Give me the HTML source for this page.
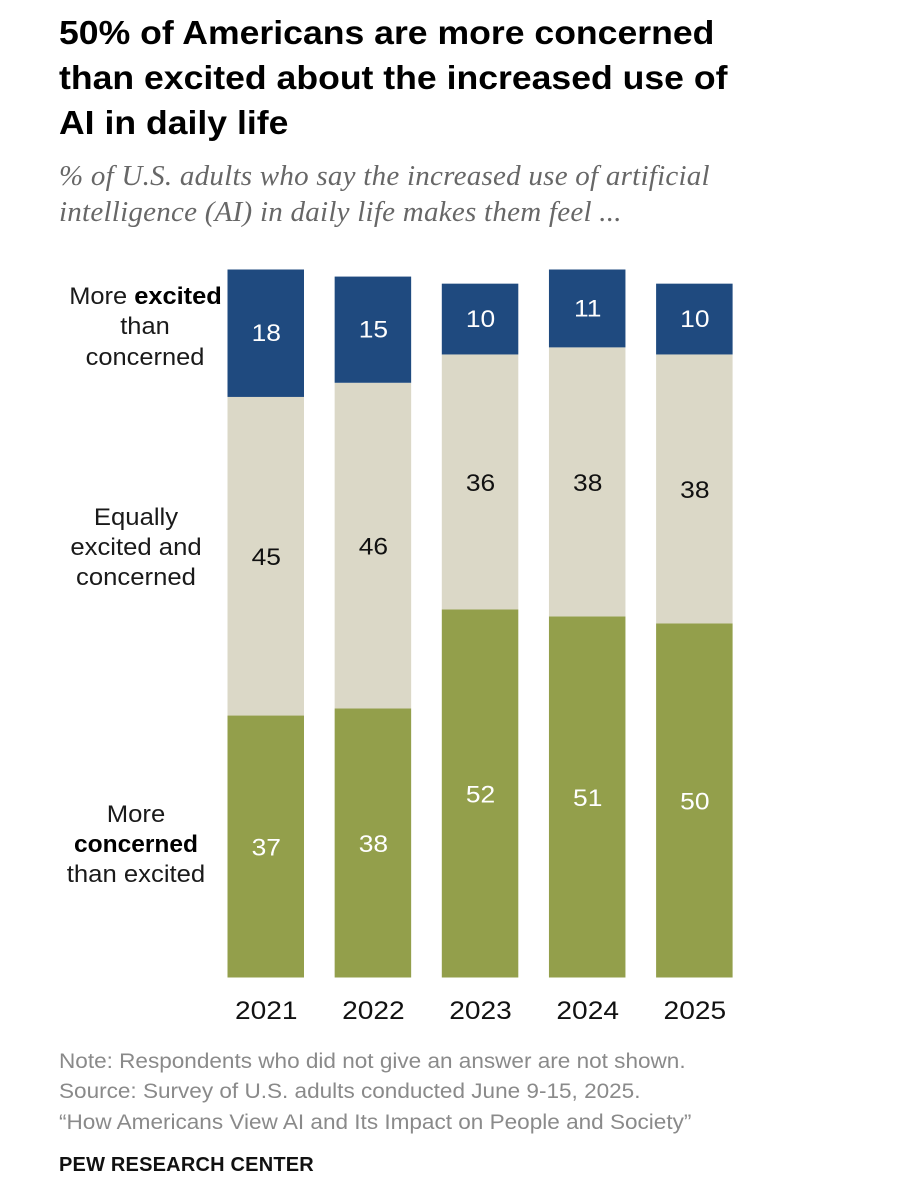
<!DOCTYPE html>
<html lang="en">
<head>
<meta charset="utf-8">
<title>50% of Americans are more concerned than excited</title>
<style>
html,body{margin:0;padding:0;background:#fff;width:905px;height:1194px;overflow:hidden}
svg{display:block}
text{font-family:"Liberation Sans",sans-serif}
.title{font-size:33px;font-weight:700;fill:#000}
.sub{font-family:"Liberation Serif",serif;font-style:italic;font-size:29px;fill:#676767;letter-spacing:.25px}
.lab{font-size:24px;fill:#1a1a1a;text-anchor:middle}
.note{font-size:21px;fill:#8a8a8a}
.val{font-size:24px;text-anchor:middle}
.yr{font-size:25px;fill:#111;text-anchor:middle}
</style>
</head>
<body>
<svg id="chart" width="905" height="1194" viewBox="0 0 905 1194" xmlns="http://www.w3.org/2000/svg">
<g transform="translate(59 0) scale(1.079 1) translate(-59 0)">
<text class="title" x="59" y="44">50% of Americans are more concerned</text>
<text class="title" x="59" y="89">than excited about the increased use of</text>
<text class="title" x="59" y="134">AI in daily life</text>
</g>
<g>
<text class="sub" x="59" y="185">% of U.S. adults who say the increased use of artificial</text>
<text class="sub" x="59" y="221">intelligence (AI) in daily life makes them feel ...</text>
</g>
<g id="bars"></g>
<g transform="translate(145 0) scale(1.06 1) translate(-145 0)">
<text class="lab" x="145.5" y="304">More <tspan font-weight="700" fill="#000">excited</tspan></text>
<text class="lab" x="145" y="334">than</text>
<text class="lab" x="145" y="365">concerned</text>
</g>
<g transform="translate(136 0) scale(1.07 1) translate(-136 0)">
<text class="lab" x="136" y="525">Equally</text>
<text class="lab" x="136" y="555">excited and</text>
<text class="lab" x="136" y="585">concerned</text>
</g>
<g transform="translate(136 0) scale(1.07 1) translate(-136 0)">
<text class="lab" x="136" y="822">More</text>
<text class="lab" x="136" y="852" style="font-weight:700;fill:#000" transform="translate(136 0) scale(.955 1) translate(-136 0)">concerned</text>
<text class="lab" x="136" y="882">than excited</text>
</g>
<g transform="translate(59 0) scale(1.074 1) translate(-59 0)">
<text class="note" x="59" y="1068">Note: Respondents who did not give an answer are not shown.</text>
<text class="note" x="59" y="1098">Source: Survey of U.S. adults conducted June 9-15, 2025.</text>
<text class="note" x="59" y="1129">“How Americans View AI and Its Impact on People and Society”</text>
</g>
<text x="59" y="1171" style="font-size:20px;font-weight:700;fill:#111;letter-spacing:.2px">PEW RESEARCH CENTER</text>
</svg>
<script>
var years = ["2021", "2022", "2023", "2024", "2025"];
var concerned = [37, 38, 52, 51, 50];
var equally = [45, 46, 36, 38, 38];
var excited = [18, 15, 10, 11, 10];

var svgNS = "http://www.w3.org/2000/svg";
var barsGroup = document.getElementById("bars");
var baseY = 977.5;
function yLen(v) { return v * 7.08; }
function xPos(i) { return 227.5 + i * 107.15; }
var barW = 76.5;

function stretchAbout(el, cx, s) {
  el.setAttribute("transform", "translate(" + cx + " 0) scale(" + s + " 1) translate(" + (-cx) + " 0)");
}

function drawSegment(i, bottom, value, fill, textFill, dy) {
  var h = yLen(value);
  var r = document.createElementNS(svgNS, "rect");
  r.setAttribute("x", xPos(i));
  r.setAttribute("y", bottom - h);
  r.setAttribute("width", barW);
  r.setAttribute("height", h);
  r.setAttribute("fill", fill);
  
  
  barsGroup.appendChild(r);
  var t = document.createElementNS(svgNS, "text");
  var cx = xPos(i) + barW / 2 + 0.5;
  t.setAttribute("class", "val");
  t.setAttribute("x", cx);
  t.setAttribute("y", bottom - h / 2 + dy);
  t.setAttribute("fill", textFill);
  stretchAbout(t, cx, 1.1);
  t.textContent = value;
  
  
  barsGroup.appendChild(t);
  return bottom - h;
}

years.forEach(function (year, i) {
  var y = baseY;
  y = drawSegment(i, y, concerned[i], "#939f4b", "#ffffff", 9);
  y = drawSegment(i, y, equally[i], "#dbd8c7", "#111111", 9);
  drawSegment(i, y, excited[i], "#1f4a7f", "#ffffff", 8);
  var t = document.createElementNS(svgNS, "text");
  var cx = xPos(i) + barW / 2 + 0.5;
  t.setAttribute("class", "yr");
  t.setAttribute("x", cx);
  t.setAttribute("y", 1019);
  stretchAbout(t, cx, 1.125);
  t.textContent = year;
  
  
  barsGroup.appendChild(t);
});
</script>
</body>
</html>
